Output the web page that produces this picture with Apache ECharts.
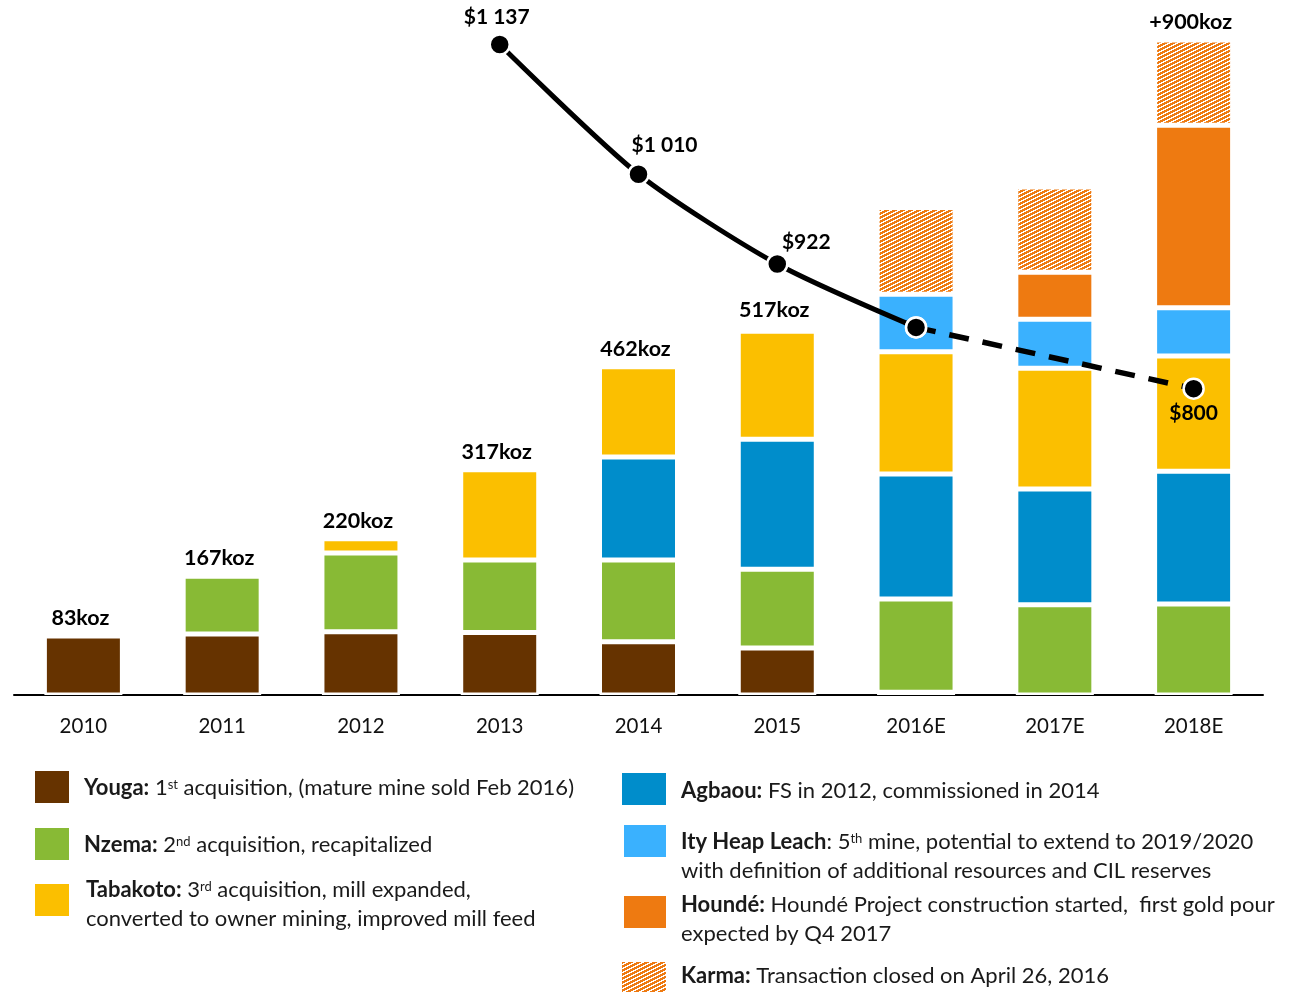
<!DOCTYPE html>
<html>
<head>
<meta charset="utf-8">
<script src="https://cdn.jsdelivr.net/npm/echarts@6/dist/echarts.min.js"></script>
<style>
  html, body { margin: 0; padding: 0; background: #fff; }
  #main { width: 1293px; height: 992px; }
</style>
</head>
<body>
<div id="main"></div>
<script>
// data (koz by mine, stacked bottom -> top)
var years = ['2010', '2011', '2012', '2013', '2014', '2015', '2016E', '2017E', '2018E'];
var youga    = [83, 86, 89, 88, 75, 66, 4, null, null];
var nzema    = [null, 81, 111, 102, 115, 111, 131, 127, 128];
var agbaou   = [null, null, null, null, 145, 183, 176, 163, 187];
var tabakoto = [null, null, 20, 127, 127, 152, 172, 170, 162];
var ity      = [null, null, null, null, null, 5, 81, 69, 68];
var hounde   = [null, null, null, null, null, null, null, 66, 257];
var karma    = [null, null, null, null, null, null, 122, 120, 120];
var totalLabels = ['83koz', '167koz', '220koz', '317koz', '462koz', '517koz', '', '', '+900koz'];

// cost per oz ($/oz): actual (solid) and forecast (dashed)
var costActual   = [null, null, null, 1137, 1010, 922, 860, null, null];
var costForecast = [null, null, null, null, null, null, 860, null, 800];

var FONT = 'Lato, "DejaVu Sans", sans-serif';
var C = {
  youga: '#663300', nzema: '#88BA35', agbaou: '#008DCB',
  tabakoto: '#FBBF00', ity: '#3AB1FE', hounde: '#EE7A11'
};

// hatched fill for Karma
function makeHatch() {
  var cv = document.createElement('canvas');
  cv.width = 8; cv.height = 4;
  var ctx = cv.getContext('2d');
  ctx.fillStyle = '#ffffff';
  ctx.fillRect(0, 0, 8, 4);
  ctx.fillStyle = C.hounde;
  for (var y = 0; y < 4; y++) {
    for (var x = 0; x < 8; x++) {
      if ((x + 2 * y) % 8 < 5) ctx.fillRect(x, y, 1, 1);
    }
  }
  return cv;
}
var hatch = { image: makeHatch(), repeat: 'repeat' };

function money(v) {
  if (v >= 1000) {
    var r = String(v % 1000);
    while (r.length < 3) r = '0' + r;
    return '$' + Math.floor(v / 1000) + ' ' + r;
  }
  return '$' + v;
}

function barSeries(name, data, color) {
  return {
    name: name,
    type: 'bar',
    stack: 'oz',
    barWidth: 78,
    data: data,
    itemStyle: { color: color, borderColor: '#fff', borderWidth: 2.5 }
  };
}

// label placement for the cost points
var costLabelPos = {
  3: { position: 'top', distance: 6, offset: [-3, 0] },
  4: { position: 'top', distance: 6, offset: [26, -1] },
  5: { position: 'top', distance: 6, offset: [29, 6] },
  8: { position: 'bottom', distance: 3, offset: [0, 0] }
};
function costData(arr) {
  return arr.map(function (v, i) {
    if (v == null) return null;
    var lp = costLabelPos[i];
    if (!lp) return { value: v, label: { show: false } };
    return { value: v, label: { show: true, position: lp.position, distance: lp.distance, offset: lp.offset } };
  });
}
var costLabel = {
  show: true,
  color: '#000',
  fontWeight: 'bold',
  fontSize: 21,
  fontFamily: FONT,
  formatter: function (p) { return money(p.value); }
};

var myChart = echarts.init(document.getElementById('main'));

var legendRows = [
  { x: 35, y: 771, w: 34, h: 32, fill: C.youga, tx: 84, ty: 788,
    text: '{b|Youga:} 1{s|st} acquisition, (mature mine sold Feb 2016)' },
  { x: 35, y: 828, w: 34, h: 32, fill: C.nzema, tx: 84, ty: 845,
    text: '{b|Nzema:} 2{s|nd} acquisition, recapitalized' },
  { x: 35, y: 884, w: 34, h: 32, fill: C.tabakoto, tx: 86, ty: 890,
    text: '{b|Tabakoto:} 3{s|rd} acquisition, mill expanded,\nconverted to owner mining, improved mill feed' },
  { x: 622, y: 773, w: 44, h: 32, fill: C.agbaou, tx: 681, ty: 791,
    text: '{b|Agbaou:} FS in 2012, commissioned in 2014' },
  { x: 624, y: 825, w: 42, h: 32, fill: C.ity, tx: 681, ty: 842,
    text: '{b|Ity Heap Leach}: 5{s|th} mine, potential to extend to 2019/2020\nwith definition of additional resources and CIL reserves' },
  { x: 624, y: 896, w: 42, h: 32, fill: C.hounde, tx: 681, ty: 905,
    text: '{b|Houndé:} Houndé Project construction started,  first gold pour\nexpected by Q4 2017' },
  { x: 622, y: 962, w: 44, h: 30, fill: hatch, tx: 681, ty: 976,
    text: '{b|Karma:} Transaction closed on April 26, 2016' }
];
var LH = 29;
var LFS = 22;
var graphics = [];
legendRows.forEach(function (r) {
  graphics.push({
    type: 'rect',
    shape: { x: r.x, y: r.y, width: r.w, height: r.h },
    style: { fill: r.fill }
  });
  graphics.push({
    type: 'text',
    x: r.tx,
    y: r.ty - LH / 2,
    style: {
      text: r.text,
      fill: '#1a1a1a',
      fontSize: LFS,
      fontFamily: FONT,
      lineHeight: LH,
      verticalAlign: 'top',
      rich: {
        b: { fontWeight: 'bold', fontSize: LFS, fontFamily: FONT, lineHeight: LH, fill: '#1a1a1a' },
        s: { fontSize: 13, fontFamily: FONT, lineHeight: 15, padding: [5, 0, 0, 0], verticalAlign: 'top', fill: '#1a1a1a' }
      }
    }
  });
});

var option = {
  backgroundColor: '#fff',
  animation: false,
  textStyle: { fontFamily: FONT },
  grid: { left: 14, width: 1249, top: 20, height: 675, containLabel: false },
  xAxis: {
    type: 'category',
    data: years,
    axisLine: { lineStyle: { color: '#000', width: 2 } },
    axisTick: { show: false },
    axisLabel: { color: '#111', fontSize: 20.5, margin: 21, fontFamily: FONT }
  },
  yAxis: [
    { type: 'value', min: 0, max: 950, show: false, splitLine: { show: false } },
    { type: 'value', min: 500, max: 1161, show: false, splitLine: { show: false } }
  ],
  graphic: graphics,
  series: [
    barSeries('Youga', youga, C.youga),
    barSeries('Nzema', nzema, C.nzema),
    barSeries('Agbaou', agbaou, C.agbaou),
    barSeries('Tabakoto', tabakoto, C.tabakoto),
    barSeries('Ity Heap Leach', ity, C.ity),
    barSeries('Houndé', hounde, C.hounde),
    barSeries('Karma', karma, hatch),
    {
      name: 'total',
      type: 'bar',
      stack: 'oz',
      barWidth: 78,
      data: years.map(function () { return 0; }),
      itemStyle: { color: 'rgba(0,0,0,0)', borderWidth: 0 },
      label: {
        show: true,
        position: 'top',
        distance: 7,
        offset: [-3, 0],
        color: '#000',
        fontWeight: 'bold',
        fontSize: 21.5,
        fontFamily: FONT,
        formatter: function (p) { return totalLabels[p.dataIndex]; }
      }
    },
    {
      name: 'Cost',
      type: 'line',
      yAxisIndex: 1,
      z: 5,
      smooth: 0.25,
      data: costData(costActual),
      symbol: 'circle',
      symbolSize: 20,
      lineStyle: { color: '#000', width: 5 },
      itemStyle: { color: '#000', borderColor: '#fff', borderWidth: 2.5 },
      label: costLabel
    },
    {
      name: 'Cost forecast',
      type: 'line',
      yAxisIndex: 1,
      z: 5,
      connectNulls: true,
      data: costData(costForecast),
      symbol: 'circle',
      symbolSize: 20,
      lineStyle: { color: '#000', width: 5.5, type: [20, 14] },
      itemStyle: { color: '#000', borderColor: '#fff', borderWidth: 2.5 },
      label: costLabel
    }
  ]
};
myChart.setOption(option);

window.onresize = function () {
  myChart.resize();
};
</script>
</body>
</html>
